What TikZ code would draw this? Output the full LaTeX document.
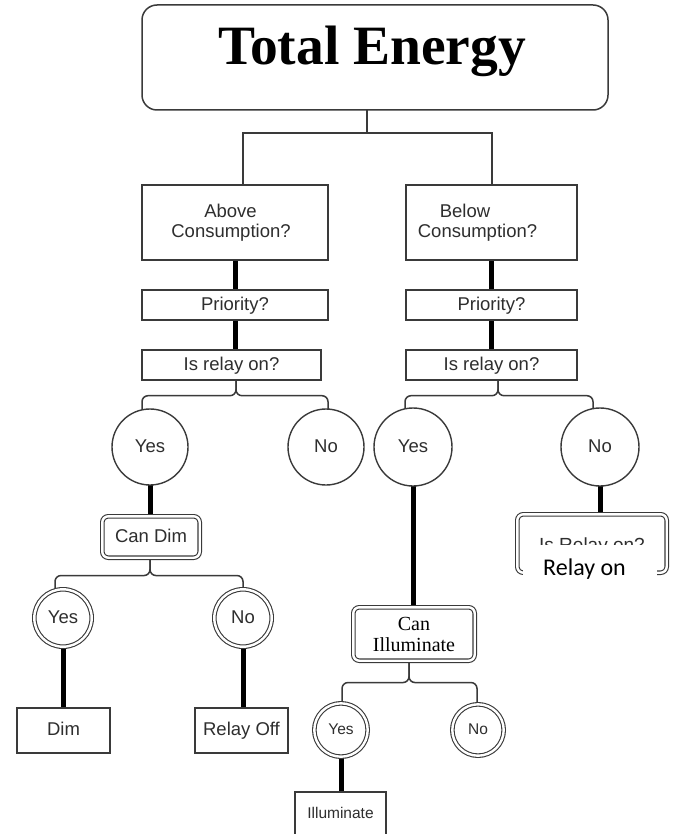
\documentclass[tikz,border=0pt]{standalone}
\usepackage{fontspec}
\setmainfont{Liberation Sans}
\newfontfamily\serifTE{Liberation Serif}
\newfontfamily\calibTE{Carlito}
\usetikzlibrary{calc}
\definecolor{linegray}{HTML}{3A3A3A}
\definecolor{txtgray}{HTML}{2E2E2E}
\pgfdeclarelayer{bg}
\pgfsetlayers{bg,main}
\begin{document}
\begin{tikzpicture}[x=1pt,y=-1pt,
  box/.style={draw=linegray, line width=1.4pt, fill=white, inner sep=0pt, text=txtgray, font=\fontsize{18.5}{20}\selectfont},
  sl/.style={text height=13.2pt, text depth=3pt},
  titlebox/.style={draw=linegray, line width=1.5pt, fill=white, rounded corners=15pt, inner sep=0pt},
  dbox/.style={box, double, double distance=2.4pt, line width=1.1pt, rounded corners=6pt},
  circ/.style={box, sl, circle},
  dcirc/.style={box, circle, double, double distance=2.4pt, line width=1.1pt},
  stem/.style={line width=5pt, black},
  br/.style={draw=linegray, line width=1.5pt, rounded corners=6pt},
  plain/.style={draw=linegray, line width=1.8pt}]
\clip (0,0) rectangle (676,834);
% title
\node[titlebox, minimum width=466, minimum height=105] (title) at (375,57.5) {};
\node[anchor=base, inner sep=0pt, font=\serifTE\bfseries\fontsize{55.5}{60}\selectfont] (ttext) at (372,65) {Total Energy};
% left column
\node[box, minimum width=186, minimum height=75, align=center] (above) at (235,222.5) {Above\hspace*{9pt}\mbox{}\\Consumption?\hspace*{8pt}\mbox{}};
\node[box, sl, minimum width=186, minimum height=30] (pri1) at (235,305) {Priority?};
\node[box, sl, minimum width=179, minimum height=30] (rel1) at (231.5,365) {Is relay on?};
% right column
\node[box, minimum width=171, minimum height=75, align=center] (below) at (491.5,222.5) {Below\hspace*{53pt}\mbox{}\\Consumption?\hspace*{28pt}\mbox{}};
\node[box, sl, minimum width=171, minimum height=30] (pri2) at (491.5,305) {Priority?};
\node[box, sl, minimum width=171, minimum height=30] (rel2) at (491.5,365) {Is relay on?};
% first level circles
\node[circ, minimum size=76] (yes1) at (150,447) {Yes};
\node[circ, minimum size=76] (no1) at (326,447) {No};
\node[circ, minimum size=78] (yes2) at (413,447) {Yes};
\node[circ, minimum size=78] (no2) at (600,447) {No};
% Can Dim branch
\node[dbox, sl, minimum width=97.4, minimum height=41.4] (candim) at (151,537) {Can Dim};
\node[dcirc, sl, minimum size=57.4] (yes3) at (63,618) {Yes};
\node[dcirc, sl, minimum size=57.4] (no3) at (243,618) {No};
\node[box, sl, minimum width=93, minimum height=45] (dim) at (63.5,730.5) {Dim};
\node[box, sl, minimum width=93, minimum height=45] (relayoff) at (241.5,730.5) {Relay Off};
% Can Illuminate branch
\node[dbox, minimum width=121.4, minimum height=53.4, align=center, text=black, font=\serifTE\fontsize{20}{21}\selectfont] (canill) at (414,634) {Can\\Illuminate};
\node[dcirc, minimum size=53.4, font=\fontsize{15.5}{17}\selectfont, text height=11pt, text depth=2.5pt] (yes4) at (341,730) {Yes};
\node[dcirc, minimum size=51.4, font=\fontsize{15.5}{17}\selectfont, text height=11pt, text depth=2.5pt] (no4) at (478,730) {No};
\node[box, minimum width=91, minimum height=56, font=\fontsize{15.5}{17}\selectfont, text height=0pt, text depth=3pt] (illum) at (340.5,820) {Illuminate};
% Is Relay on box with white label over it
\node[dbox, minimum width=149.4, minimum height=58.4, font=\fontsize{19}{21}\selectfont, text height=17pt, text depth=2pt] (relbox) at (592,543.5) {Is Relay on?};
\fill[white] (523,545) rectangle (657,582);
\node[anchor=base west, inner sep=0pt, text=black, font=\calibTE\fontsize{24}{26}\selectfont] (relon) at (543,575) {Relay on};
% connectors behind the nodes
\begin{pgfonlayer}{bg}
\fill[white] (0,0) rectangle (676,834);
\coordinate (tj) at (367,133);
\coordinate (jl) at (243,133);
\coordinate (jr) at (492,133);
\draw[plain] (tj |- title.center) -- (tj);
\draw[plain] (jl |- above.center) -- (jl) -- (jr) -- (jr |- below.center);
\draw[stem] (above.center) -- (pri1.center);
\draw[stem] (pri1.center) -- (pri1.center |- rel1.center);
\draw[stem] (below.center) -- (pri2.center);
\draw[stem] (pri2.center) -- (rel2.center);
\draw[stem] (yes1.center) -- (yes1.center |- candim.center);
\draw[stem] (no2.center) -- (no2.center |- relbox.center);
\draw[stem] (yes2.center) -- (yes2.center |- canill.center);
\draw[stem] (yes3.center) -- (yes3.center |- dim.center);
\draw[stem] (no3.center) -- (no3.center |- relayoff.center);
\draw[stem] (yes4.center) -- (yes4.center |- illum.center);
% braces
\draw[br] ($(yes1.center)+(-8,0)$) |- ($(rel1.south)+(4.5,15)$) -- ($(rel1.center)+(4.5,0)$);
\draw[br] ($(no1.center)+(2,0)$) |- ($(rel1.south)+(4.5,15)$) -- ($(rel1.center)+(4.5,0)$);
\draw[br] ($(yes2.center)+(-8,0)$) |- ($(rel2.south)+(6.5,15)$) -- ($(rel2.center)+(6.5,0)$);
\draw[br] ($(no2.center)+(-7,0)$) |- ($(rel2.south)+(6.5,15)$) -- ($(rel2.center)+(6.5,0)$);
\draw[br] ($(yes3.center)+(-8,0)$) |- ($(candim.south)+(-1,17.3)$) -- ($(candim.center)+(-1,0)$);
\draw[br] (no3.center) |- ($(candim.south)+(-1,17.3)$) -- ($(candim.center)+(-1,0)$);
\draw[br] ($(yes4.center)+(1,0)$) |- ($(canill.south)+(-5,21.3)$) -- ($(canill.center)+(-5,0)$);
\draw[br] ($(no4.center)+(-1,0)$) |- ($(canill.south)+(-5,21.3)$) -- ($(canill.center)+(-5,0)$);
\end{pgfonlayer}
\end{tikzpicture}
\end{document}
